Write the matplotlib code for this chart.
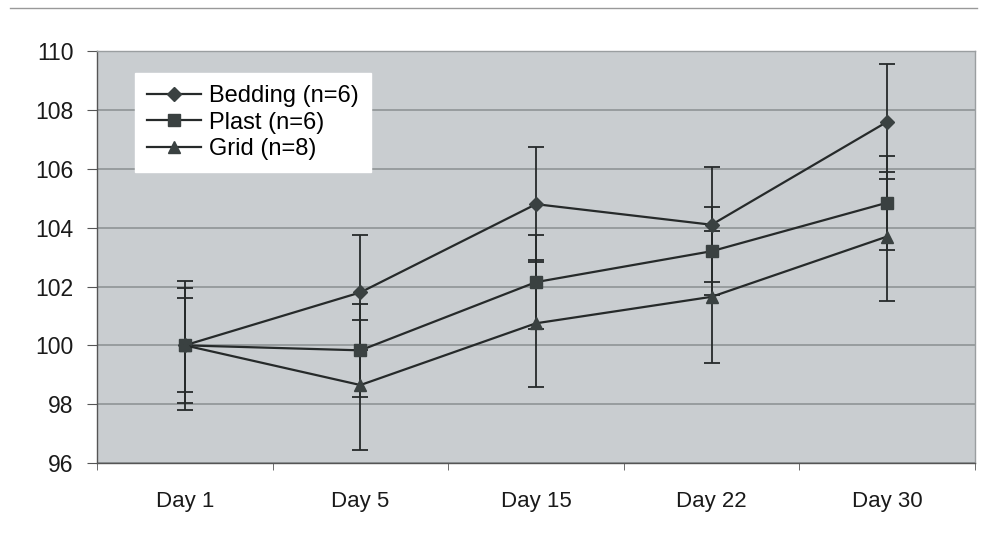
import matplotlib.pyplot as plt
from matplotlib.lines import Line2D
import numpy as np

days = ["Day 1", "Day 5", "Day 15", "Day 22", "Day 30"]
bedding = [100, 101.8, 104.8, 104.1, 107.6]
bedding_err = [2.2, 1.95, 1.95, 1.95, 1.95]
plast = [100, 99.83, 102.15, 103.2, 104.85]
plast_err = [1.6, 1.57, 1.6, 1.5, 1.6]
grid = [100, 98.65, 100.75, 101.65, 103.7]
grid_err = [1.95, 2.2, 2.15, 2.25, 2.2]

plt.rcParams['font.family'] = ['Liberation Sans', 'DejaVu Sans']

fig = plt.figure(figsize=(9.87, 5.39), dpi=100)
ax = fig.add_axes([0.0983, 0.141, 0.8895, 0.764])
ax.set_facecolor("#c9cdd0")

x = np.arange(len(days))
line_c = "#262a2a"
mk_c = "#3a4141"
series = [(bedding, bedding_err, "D", 7, "Bedding (n=6)"),
          (plast, plast_err, "s", 8, "Plast (n=6)"),
          (grid, grid_err, "^", 9, "Grid (n=8)")]
handles = []
for vals, err, m, ms, lab in series:
    ax.errorbar(x, vals, yerr=err, color=line_c, lw=1.6, marker=m, ms=ms,
                mfc=mk_c, mec=mk_c, ecolor=line_c, elinewidth=1.3,
                capsize=5.5, capthick=1.3, zorder=3)
    handles.append(Line2D([], [], color=line_c, lw=1.6, marker=m, ms=ms,
                          mfc=mk_c, mec=mk_c, label=lab))

ax.set_xlim(-0.5, 4.5)
ax.set_ylim(96, 110)
ax.set_yticks(np.arange(96, 111, 2))
ax.yaxis.grid(True, color="#8f9496", lw=1.2)
ax.set_axisbelow(True)
ax.set_xticks(x)
ax.set_xticklabels(days)
ax.set_xticks(np.arange(-0.5, 5, 1), minor=True)
ax.tick_params(axis="x", which="major", length=0, pad=20, labelsize=16)
ax.tick_params(axis="x", which="minor", length=5, color="#555555")
ax.tick_params(axis="y", length=7, labelsize=16.5, pad=10, color="#555555")
for t in ax.get_xticklabels() + ax.get_yticklabels():
    t.set_color("#1a1a1a")

for s in ["top", "right"]:
    ax.spines[s].set_color("#9a9ea0")
    ax.spines[s].set_linewidth(1.0)
for s in ["left", "bottom"]:
    ax.spines[s].set_color("#555555")
    ax.spines[s].set_linewidth(1.0)
    ax.spines[s].set_linestyle((0, (3, 1)))

leg = ax.legend(handles=handles, loc="upper left", bbox_to_anchor=(0.043, 0.947),
                frameon=True, fancybox=False, fontsize=17, handlelength=2.3,
                handletextpad=0.35, labelspacing=0.2, borderpad=0.5,
                borderaxespad=0)
leg.get_frame().set_facecolor("white")
leg.get_frame().set_edgecolor("white")
leg.get_frame().set_alpha(1)

fig.add_artist(Line2D([0.01, 0.99], [0.985, 0.985], color="#999999", lw=1))

fig.savefig("out.png", dpi=100)
